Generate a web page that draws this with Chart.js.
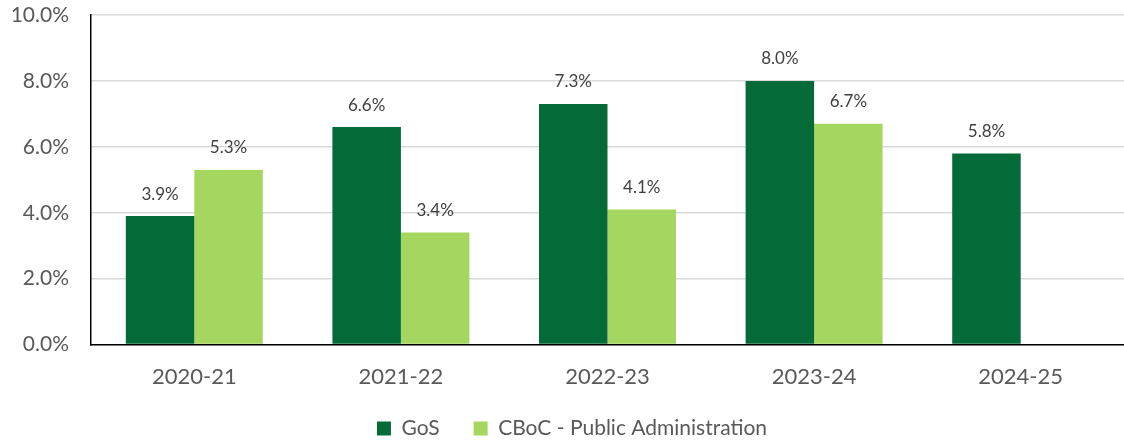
<!DOCTYPE html>
<html>
<head>
<meta charset="utf-8">
<script src="https://cdn.jsdelivr.net/npm/chart.js@4/dist/chart.umd.min.js"></script>
<style>
  html, body { margin: 0; padding: 0; background: #fff; }
  #wrap { width: 1124px; height: 441px; }
</style>
</head>
<body>
<div id="wrap"><canvas id="growth"></canvas></div>
<script>
// Years and annual growth (%) per series
const years = ['2020-21', '2021-22', '2022-23', '2023-24', '2024-25']
const gos = [3.9, 6.6, 7.3, 8.0, 5.8]
const cboc = [5.3, 3.4, 4.1, 6.7, null]
const yTicks = [0, 2, 4, 6, 8, 10]

const FONT = 'Lato, "Open Sans", sans-serif'

// Print the value over each bar
const barLabels = {
    id: 'barLabels',
    afterDatasetsDraw(chart) {
        const ctx = chart.ctx
        ctx.save()
        ctx.font = '17px ' + FONT
        ctx.fillStyle = '#404040'
        ctx.textAlign = 'center'
        ctx.textBaseline = 'middle'
        chart.data.datasets.forEach((ds, i) => {
            chart.getDatasetMeta(i).data.forEach((bar, j) => {
                const v = ds.data[j]
                if (v == null) return
                ctx.fillText(v.toFixed(1) + '%', bar.x, bar.y - 22)
            })
        })
        ctx.restore()
    }
}

// Wide gaps between legend items but a tight legend box: pull the legend up and right a bit
const legendNudge = {
    id: 'legendNudge',
    afterLayout(chart) {
        const lg = chart.legend
        lg.top -= 17; lg.bottom -= 17
        lg.left += 10; lg.right += 10
    }
}

new Chart(document.getElementById('growth'), {
    type: 'bar',
    data: {
        labels: years,
        datasets: [
            { label: 'GoS', data: gos, backgroundColor: '#046A38' },
            { label: 'CBoC - Public Administration', data: cboc, backgroundColor: '#A5D65F' }
        ]
    },
    options: {
        responsive: true,
        maintainAspectRatio: false,
        animation: false,
        layout: { padding: { top: 0, right: 0, left: 0, bottom: -25 } },
        datasets: { bar: { categoryPercentage: 0.663, barPercentage: 1 } },
        plugins: {
            legend: {
                position: 'bottom',
                labels: {
                    boxWidth: 14, boxHeight: 14, padding: 34,
                    color: '#595959',
                    font: { family: FONT, size: 21 }
                }
            },
            tooltip: { enabled: false }
        },
        scales: {
            x: {
                grid: { display: false },
                border: { color: '#000', width: 1.5 },
                ticks: { color: '#595959', font: { family: FONT, size: 22 }, padding: 11 }
            },
            y: {
                min: 0, max: 10,
                afterBuildTicks: axis => { axis.ticks = yTicks.map(v => ({ value: v })) },
                afterFit: axis => {
                    axis.width = 91
                    axis.paddingTop = 15
                    axis.paddingBottom = 12
                },
                grid: { color: '#d9d9d9', lineWidth: 1.5, drawTicks: false },
                border: { color: '#000', width: 1.5 },
                ticks: {
                    color: '#595959', padding: 22,
                    font: { family: FONT, size: 21 },
                    callback: v => v.toFixed(1) + '%'
                }
            }
        }
    },
    plugins: [barLabels, legendNudge]
})
</script>
</body>
</html>
